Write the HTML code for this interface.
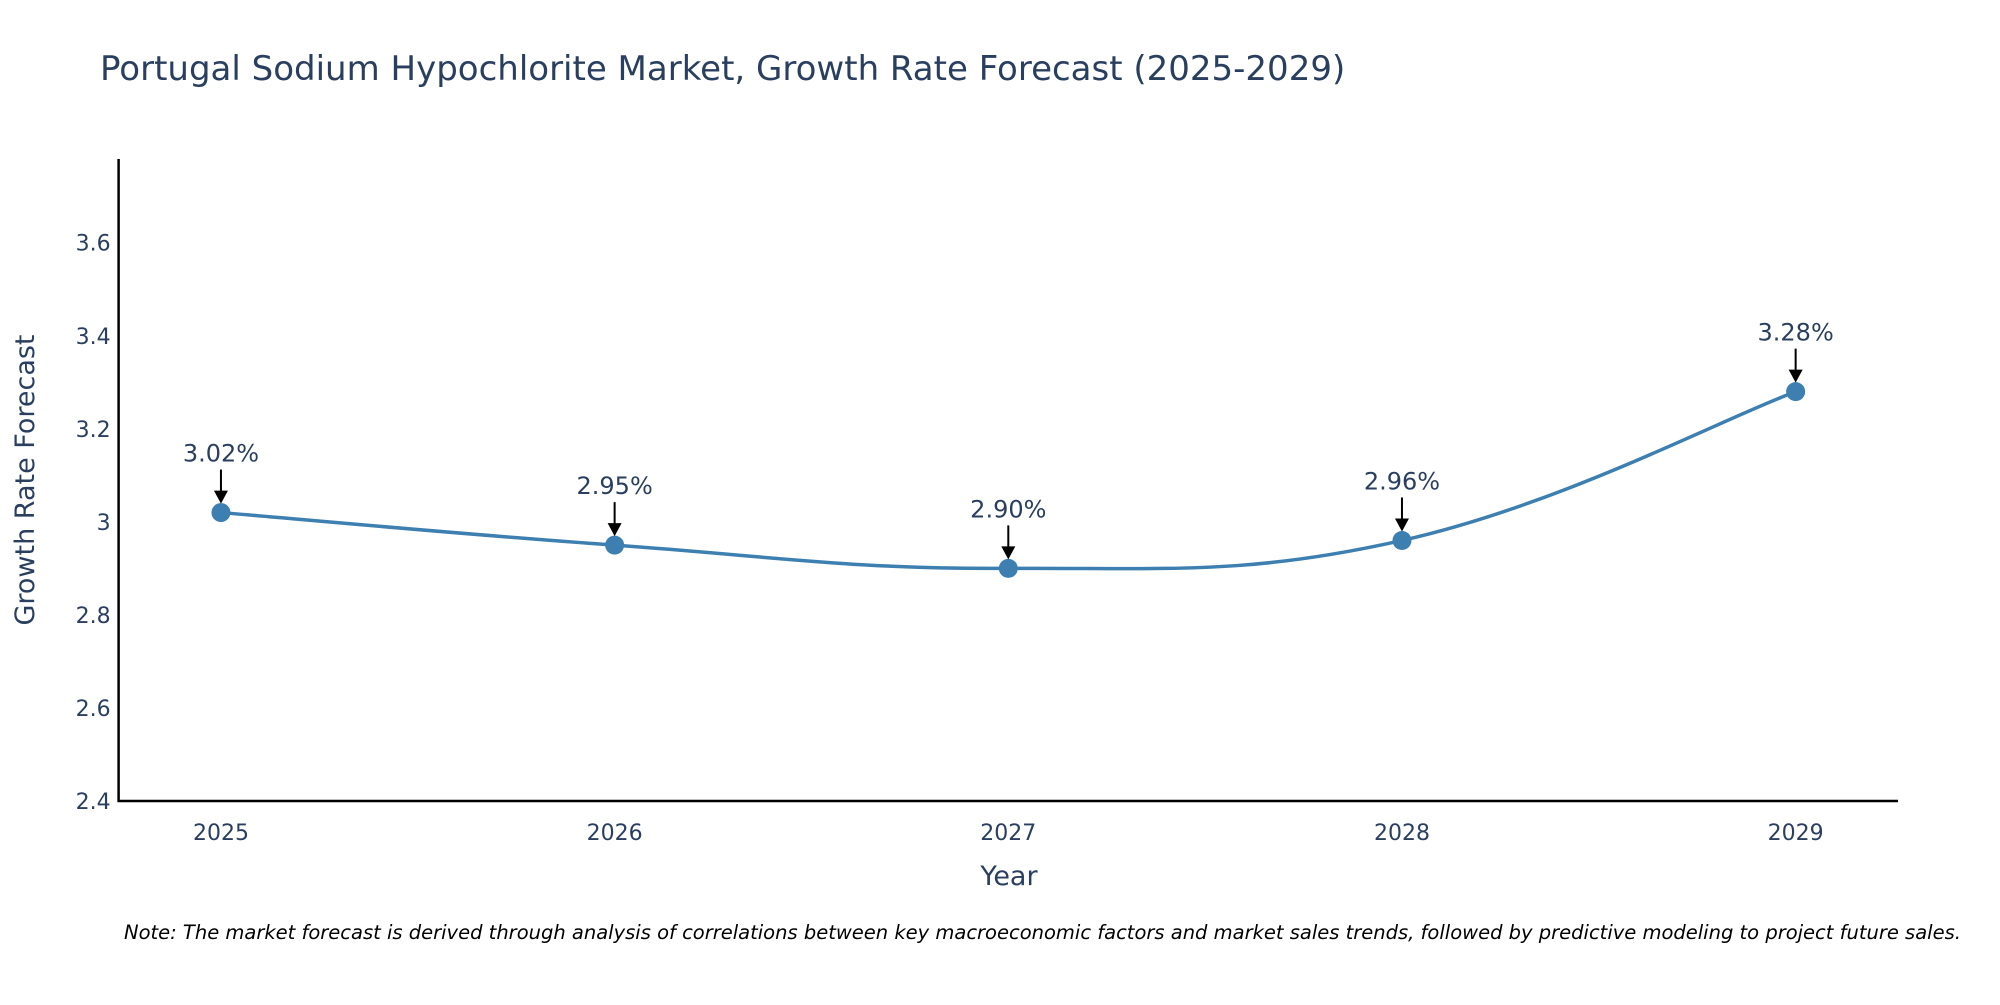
<!DOCTYPE html>
<html><head><meta charset="utf-8"><style>
body{margin:0;background:#fff;}
svg text{font-family:"DejaVu Sans","Liberation Sans",sans-serif;}
</style></head><body>
<svg id="chart" width="2000" height="1000" viewBox="0 0 2000 1000" xmlns="http://www.w3.org/2000/svg">
<text x="100" y="80" font-size="34" fill="#2a3f5f">Portugal Sodium Hypochlorite Market, Growth Rate Forecast (2025-2029)</text>
<g id="axes"></g>
<g id="plot"></g>
<text x="0" y="0" transform="translate(34,480) rotate(-90)" text-anchor="middle" font-size="27" fill="#2a3f5f">Growth Rate Forecast</text>
<text x="1009" y="885" text-anchor="middle" font-size="27" fill="#2a3f5f">Year</text>
<text x="124" y="939" font-size="19.5" font-style="italic" fill="#000">Note: The market forecast is derived through analysis of correlations between key macroeconomic factors and market sales trends, followed by predictive modeling to project future sales.</text>
</svg>
<script>
const years = [2025, 2026, 2027, 2028, 2029];
const values = [3.02, 2.95, 2.90, 2.96, 3.28];
const labels = ["3.02%", "2.95%", "2.90%", "2.96%", "3.28%"];
const yTicks = [2.4, 2.6, 2.8, 3, 3.2, 3.4, 3.6];
const yTickLabels = ["2.4", "2.6", "2.8", "3", "3.2", "3.4", "3.6"];

const NS = "http://www.w3.org/2000/svg";
const L = 118.6, R = 1898, T = 159, B = 801;
const xMin = 2024.74, xMax = 2029.26, yMin = 2.4, yMax = 3.78;
const xS = v => L + (v - xMin) / (xMax - xMin) * (R - L);
const yS = v => B - (v - yMin) / (yMax - yMin) * (B - T);
function mk(tag, attrs, parent) {
  const e = document.createElementNS(NS, tag);
  for (const k in attrs) e.setAttribute(k, attrs[k]);
  parent.appendChild(e);
  return e;
}
const axes = document.getElementById("axes");
const plot = document.getElementById("plot");

const yAxis = mk("line", {x1: L, y1: T, x2: L, y2: B + 1, stroke: "#000", "stroke-width": 2.5}, axes);


const xAxis = mk("line", {x1: L - 1, y1: B, x2: R, y2: B, stroke: "#000", "stroke-width": 2.5}, axes);



yTicks.forEach((t, i) => {
  const tx = mk("text", {x: L - 8, y: yS(t) + 8, "text-anchor": "end", "font-size": 22, fill: "#2a3f5f"}, axes);
  tx.textContent = yTickLabels[i];
  
  
});
years.forEach(y => {
  const tx = mk("text", {x: xS(y), y: B + 39, "text-anchor": "middle", "font-size": 22, fill: "#2a3f5f"}, axes);
  tx.textContent = String(y);
  
  
});

const pts = years.map((y, i) => [xS(y), yS(values[i])]);
let d = "M" + pts[0][0] + "," + pts[0][1];
const s = 0.2;
for (let i = 0; i < pts.length - 1; i++) {
  const p0 = pts[i - 1] || pts[i], p1 = pts[i], p2 = pts[i + 1], p3 = pts[i + 2] || p2;
  const c1 = [p1[0] + (p2[0] - p0[0]) * s, p1[1] + (p2[1] - p0[1]) * s];
  const c2 = [p2[0] - (p3[0] - p1[0]) * s, p2[1] - (p3[1] - p1[1]) * s];
  d += " C" + c1 + " " + c2 + " " + p2;
}
const line = mk("path", {d: d, fill: "none", stroke: "#3d7fb0", "stroke-width": 3.5}, plot);



pts.forEach((p, i) => {
  const c = mk("circle", {cx: p[0], cy: p[1], r: 9.5, fill: "#3d7fb0"}, plot);
  
  
  const a = mk("line", {x1: p[0], y1: p[1] - 43, x2: p[0], y2: p[1] - 20, stroke: "#000", "stroke-width": 2}, plot);
  
  
  const h = mk("polygon", {points: (p[0] - 7) + "," + (p[1] - 22) + " " + (p[0] + 7) + "," + (p[1] - 22) + " " + p[0] + "," + (p[1] - 9), fill: "#000"}, plot);
  
  
  const t = mk("text", {x: p[0], y: p[1] - 51, "text-anchor": "middle", "font-size": 24, fill: "#2a3f5f"}, plot);
  t.textContent = labels[i];
  
  
});
</script>
</body></html>
